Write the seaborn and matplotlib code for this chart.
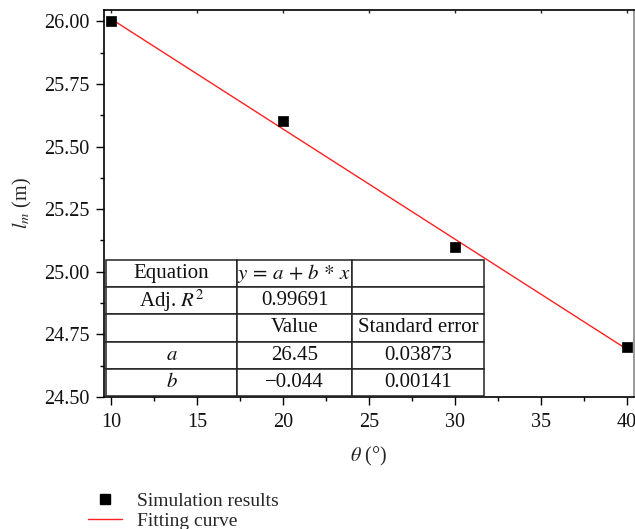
import matplotlib
matplotlib.use("Agg")
import matplotlib.pyplot as plt
import seaborn as sns
import numpy as np
import pandas as pd
from matplotlib.lines import Line2D
from matplotlib.ticker import MultipleLocator

# Simulated strain-zone length versus angle
theta = [10, 20, 30, 40]
lm = [26.00, 25.60, 25.10, 24.70]

# Linear fit parameters
fit_a = 26.45
fit_b = -0.044
adj_r2 = "0.99691"
se_a = "0.03873"
se_b = "0.00141"

x_ticks = [10, 15, 20, 25, 30, 35, 40]
y_ticks = [24.50, 24.75, 25.00, 25.25, 25.50, 25.75, 26.00]

sns.set_theme(style="white")
plt.rcParams["font.family"] = ["Liberation Serif", "DejaVu Serif"]
plt.rcParams["mathtext.fontset"] = "stix"

FS = 14.5

fig = plt.figure(figsize=(6.35, 5.29), dpi=100)
ax = fig.add_axes([104 / 635, 1 - 397 / 529, 530 / 635, 387 / 529])

pts = pd.DataFrame({"theta": theta, "lm": lm})
x_fit = np.array([theta[0], theta[-1]], dtype=float)
fit = pd.DataFrame({"theta": x_fit, "lm": fit_a + fit_b * x_fit})

sns.lineplot(data=fit, x="theta", y="lm", ax=ax, color="#ff2020", linewidth=1.0, zorder=3)
sns.scatterplot(data=pts, x="theta", y="lm", ax=ax, marker="s", s=60,
                color="black", edgecolor="black", linewidth=0.5, zorder=4)

ax.set_xlim(9.6, 40.4)
ax.set_ylim(24.5, 26.045)
ax.set_xticks(x_ticks)
ax.set_xticklabels([str(v) for v in x_ticks])
ax.set_yticks(y_ticks)
ax.set_yticklabels([f"{v:.2f}" for v in y_ticks])
ax.xaxis.set_minor_locator(MultipleLocator(2.5))
ax.yaxis.set_minor_locator(MultipleLocator(0.125))

ax.tick_params(axis="both", which="major", direction="out", length=5.5, width=1,
               color="black", labelsize=FS, labelcolor="#111111")
ax.tick_params(axis="both", which="minor", direction="out", length=3, width=1,
               color="black")
ax.tick_params(axis="x", which="major", pad=6)
ax.tick_params(axis="y", which="major", pad=5)
ax.tick_params(axis="x", which="both", bottom=True, top=False)
ax.tick_params(axis="y", which="both", left=True, right=False)

# Inward ticks along the top spine
sec = ax.secondary_xaxis("top")
sec.set_xticks(x_ticks)
sec.xaxis.set_minor_locator(MultipleLocator(2.5))
sec.tick_params(which="major", direction="in", length=2.5, width=1, labeltop=False)
sec.tick_params(which="minor", direction="in", length=0)
sec.spines["top"].set_visible(False)

for side in ["left", "bottom", "top"]:
    ax.spines[side].set_color("black")
    ax.spines[side].set_linewidth(1.2)
ax.spines["right"].set_color("#888888")
ax.spines["right"].set_linewidth(1.2)

ax.set_xlabel(r"$\theta$ (°)", fontsize=FS, labelpad=9)
ax.set_ylabel(r"$l_m$ (m)", fontsize=FS, labelpad=7)

# Fit summary table
cells = [
    ["Equation", r"$y\,=\,a\,+\,b\,*\,x$", ""],
    [r"Adj. $R^2$", adj_r2, ""],
    ["", "Value", "Standard error"],
    [r"$a$", f"{fit_a:.2f}", se_a],
    [r"$b$", f"\u2212{abs(fit_b):.3f}", se_b],
]
tbl = ax.table(cellText=cells, cellLoc="center",
               colWidths=[131 / 378, 115 / 378, 132 / 378],
               bbox=[2 / 530, 1 / 387, 378 / 530, 136 / 387])
tbl.auto_set_font_size(False)
tbl.set_fontsize(15)
tbl.set_zorder(5)
for cell in tbl.get_celld().values():
    cell.set_edgecolor("#222222")
    cell.set_linewidth(1.1)
    cell.set_facecolor("white")
    cell.get_text().set_color("#111111")

handles = [
    Line2D([], [], marker="s", color="black", linestyle="none", markersize=7),
    Line2D([], [], color="#ff2020", linewidth=1.0),
]
fig.legend(handles, ["Simulation results", "Fitting curve"],
           loc="upper left", bbox_to_anchor=(88 / 635, 1 - 492 / 529),
           frameon=False, fontsize=14, handlelength=1.75, handletextpad=0.75,
           labelspacing=0.15, borderpad=0, borderaxespad=0)

fig.savefig("out.png", dpi=100)
